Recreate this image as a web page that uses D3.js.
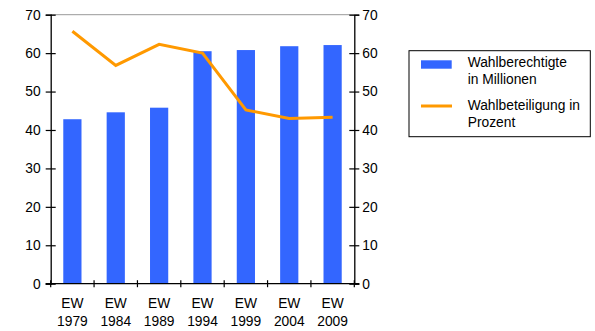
<!DOCTYPE html>
<html><head><meta charset="utf-8">
<script src="https://cdn.jsdelivr.net/npm/d3@7"></script>
<style>body{margin:0;background:#fff}svg{display:block}text{font-family:"Liberation Sans",Arial,sans-serif;fill:#000}</style>
</head><body>
<script>
const categories = ["EW 1979","EW 1984","EW 1989","EW 1994","EW 1999","EW 2004","EW 2009"];
const wahlberechtigte = [42.8, 44.6, 45.8, 60.5, 60.8, 61.8, 62.1];
const wahlbeteiligung = [65.7, 56.8, 62.3, 60.0, 45.2, 43.0, 43.3];
const yTicks = [0,10,20,30,40,50,60,70];
const legendLabels = [["Wahlberechtigte","in Millionen"],["Wahlbeteiligung in","Prozent"]];

const W=595,H=331, L=50.7, R=354.3, T=14.7, B=283.7, FS=13.8;
const svg=d3.select("body").append("svg").attr("width",W).attr("height",H);
const x=d3.scaleBand().domain(categories).range([L,R]).padding(0);
const y=d3.scaleLinear().domain([0,70]).range([B,T]);
const bw=x.bandwidth()*0.42;

// top border
svg.append("line").attr("x1",L).attr("x2",R).attr("y1",T).attr("y2",T).attr("stroke","#999").attr("stroke-width",1);

svg.append("g").selectAll("rect").data(categories).join("rect")
 .attr("x",(d)=>x(d)+x.bandwidth()/2-bw/2).attr("width",bw)
 .attr("y",(d,i)=>y(wahlberechtigte[i])).attr("height",(d,i)=>B-y(wahlberechtigte[i]))
 .attr("fill","#3366FF");

const line=d3.line().x((d,i)=>x(categories[i])+x.bandwidth()/2).y(d=>y(d));
svg.append("path").datum(wahlbeteiligung).attr("d",line).attr("fill","none")
 .attr("stroke","#FF9900").attr("stroke-width",3).attr("stroke-linejoin","miter");

// axes
const la=svg.append("g").attr("transform",`translate(${L},0)`)
 .call(d3.axisLeft(y).tickValues(yTicks).tickSize(5).tickPadding(7));
const ra=svg.append("g").attr("transform",`translate(${R},0)`)
 .call(d3.axisRight(y).tickValues(yTicks).tickSize(5).tickPadding(7));
[la,ra].forEach(g=>{g.select(".domain").attr("stroke","#000").attr("stroke-width",1.3);
 g.selectAll(".tick line").attr("stroke","#000").attr("stroke-width",1.2);
 g.selectAll("text").attr("font-size",FS).attr("font-family","Liberation Sans, Arial, sans-serif").attr("fill","#000");});
la.selectAll(".tick line").attr("x1",5).attr("x2",-5);
ra.selectAll(".tick line").attr("x1",-5).attr("x2",5);
la.selectAll(".tick text").attr("x",-10);
ra.selectAll(".tick text").attr("x",8);

// bottom axis
svg.append("line").attr("x1",L-5).attr("x2",R+5).attr("y1",B).attr("y2",B).attr("stroke","#000").attr("stroke-width",1.3);
const edges=categories.map(c=>x(c)).concat([R]);
svg.append("g").selectAll("line").data(edges).join("line")
 .attr("x1",d=>d).attr("x2",d=>d).attr("y1",B-3.5).attr("y2",B+3.5).attr("stroke","#000").attr("stroke-width",1.2);
const xl=svg.append("g").selectAll("text").data(categories).join("text")
 .attr("text-anchor","middle").attr("font-size",FS)
 .attr("transform",d=>`translate(${x(d)+x.bandwidth()/2},0)`);
xl.append("tspan").attr("x",0).attr("y",308).text(d=>d.split(" ")[0]);
xl.append("tspan").attr("x",0).attr("y",326).text(d=>d.split(" ")[1]);

// legend
const lg=svg.append("g");
lg.append("rect").attr("x",409).attr("y",50.7).attr("width",181.3).attr("height",86).attr("fill","#fff").attr("stroke","#000").attr("stroke-width",1);
lg.append("rect").attr("x",421).attr("y",60.3).attr("width",30.7).attr("height",8.4).attr("fill","#3366FF");
lg.append("line").attr("x1",421).attr("x2",452).attr("y1",106).attr("y2",106).attr("stroke","#FF9900").attr("stroke-width",3);
const lt=lg.selectAll("text.lg").data(legendLabels).join("text").attr("class","lg").attr("font-size",FS);
lt.append("tspan").attr("x",467.7).attr("y",(d,i)=>i?110:67).text(d=>d[0]);
lt.append("tspan").attr("x",467.7).attr("y",(d,i)=>i?127:84).text(d=>d[1]);
</script>
</body></html>
